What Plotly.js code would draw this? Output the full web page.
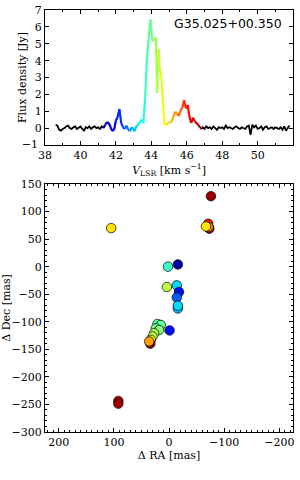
<!DOCTYPE html>
<html><head><meta charset="utf-8">
<script src="https://cdn.plot.ly/plotly-3.0.1.min.js"></script>
<style>html,body{margin:0;padding:0;background:#fff}#c{width:300px;height:480px}</style>
</head><body><div id="c"></div>
<script>
// Spectrum
const vel = [38.6,38.7,38.8,38.9,39.0,39.1,39.2,39.3,39.4,39.5,39.6,39.7,39.8,39.9,40.0,40.1,40.2,40.3,40.4,40.5,40.6,40.7,40.8,40.9,41.0,41.1,41.2,
41.3,41.4,41.5,41.6,41.7,41.8,41.9,42.0,42.1,42.2,42.3,42.4,42.5,42.6,42.7,42.8,42.9,43.0,43.05,43.15,43.25,43.35,43.45,43.55,43.65,43.75,43.85,43.95,44.05,44.15,44.25,44.33,44.4,44.48,44.55,44.65,44.75,44.85,44.95,45.05,45.15,45.25,45.35,45.45,45.55,45.65,45.75,45.85,45.95,46.05,46.15,46.25,46.35,46.45,46.55,46.65,46.75,46.85,
46.9,47.0,47.1,47.2,47.3,47.4,47.5,47.6,47.7,47.8,47.9,48.0,48.1,48.2,48.3,48.4,48.5,48.6,48.7,48.8,48.9,49.0,49.1,49.2,49.3,49.4,49.5,49.6,49.7,49.8,49.9,50.0,50.1,50.2,50.3,50.4,50.5,50.6,50.7,50.8,50.9,51.0,51.1,51.2,51.3,51.4,51.5,51.6,51.7,51.8];
const flux = [0.2,0.15,-0.1,-0.15,-0.05,0.0,0.1,0.15,0.0,-0.05,0.05,0.1,-0.05,0.05,0.1,-0.05,-0.15,0.05,0.0,0.1,-0.05,0.05,0.1,0.0,0.05,-0.05,0.1,
0.0,0.2,0.35,0.3,0.05,-0.17,-0.1,0.45,0.65,1.13,0.3,0.05,-0.05,0.15,-0.1,-0.17,0.05,-0.05,-0.2,0.1,0.2,0.35,0.5,0.28,1.8,4.1,5.3,6.45,5.2,5.2,5.4,2.1,4.7,3.5,3.2,1.6,0.2,0.18,0.3,0.35,0.38,0.7,0.97,0.83,0.72,1.05,1.2,1.67,1.17,1.37,0.7,0.3,0.62,0.4,0.3,0.18,0.05,-0.05,
0.05,-0.05,0.1,0.0,0.05,-0.05,0.1,0.0,-0.1,0.05,0.0,0.05,-0.05,0.15,0.0,0.05,0.0,-0.05,0.05,0.1,0.0,-0.05,0.05,0.0,-0.05,0.1,0.15,-0.4,0.2,0.05,0.15,-0.05,0.0,0.1,-0.1,0.05,0.1,-0.05,0.0,0.05,-0.05,0.05,0.0,-0.05,0.05,-0.1,0.1,-0.15,0.0,0.15];
const vMin = 41.3, vMax = 46.85;
const velTicks = [38,40,42,44,46,48,50,52];
const fluxTicks = [-1,0,1,2,3,4,5,6,7];

// Maser spots
const dRA  = [-73,-71,-72,-67,105,2,-16,4,-14,-18,-14,-16,-16,21,15,24,18,27,30,33,34,36,-1,92,92];
const dDec = [69,78,72,73,70,0,4,-37,-34,-46,-56,-76,-71,-104,-106,-112,-115,-121,-127,-133,-140,-136,-116,-244,-249];
const spotV= [46.8,46.0,45.5,44.9,44.9,43.7,41.5,44.4,43.2,42.0,42.5,43.0,43.2,43.9,43.9,44.0,44.1,44.3,44.4,44.6,46.8,45.3,42.0,46.6,46.7];
const topRA = [-76], topDec = [128], topV = [46.7];

function jet(t){
  t=Math.max(0,Math.min(1,t));
  const c=x=>Math.round(255*Math.max(0,Math.min(1,x)));
  return 'rgb('+c(1.5-Math.abs(4*t-3))+','+c(1.5-Math.abs(4*t-2))+','+c(1.5-Math.abs(4*t-1))+')';
}
const jetScale=[];for(let i=0;i<=20;i++)jetScale.push([i/20,jet(i/20)]);

const tf={family:'DejaVu Serif',size:11,color:'black'};
const lf={family:'DejaVu Serif',size:11,color:'black'};

const traces=[];
for(let i=0;i<vel.length-1;i++){
  const m=(vel[i]+vel[i+1])/2;
  if(m>=vMin&&m<=vMax){
    traces.push({x:[vel[i],vel[i+1]],y:[flux[i],flux[i+1]],mode:'lines',line:{color:jet((m-vMin)/(vMax-vMin)),width:2.2},xaxis:'x',yaxis:'y',hoverinfo:'skip'});
  }
}
const bx=[],by=[];
for(let i=0;i<vel.length;i++){
  if(vel[i]<=vMin||vel[i]>=vMax){bx.push(vel[i]);by.push(flux[i]);}
  else if(bx.length&&bx[bx.length-1]!==null){bx.push(null);by.push(null);}
}
traces.unshift({x:bx,y:by,mode:'lines',line:{color:'black',width:1.8},xaxis:'x',yaxis:'y',connectgaps:false,hoverinfo:'skip'});

// end tick labels drawn as text marks (outside the plot via cliponaxis:false)
const labelRowOffset = 0.6; // label row sits below the axis line, in y-axis units
traces.push({x:[velTicks[0]],y:[fluxTicks[0]],mode:'text',text:['−'+Math.abs(fluxTicks[0])+'  '],textposition:'middle left',textfont:tf,cliponaxis:false,xaxis:'x',yaxis:'y',hoverinfo:'skip'});
traces.push({x:[velTicks[velTicks.length-1]],y:[fluxTicks[0]-labelRowOffset],mode:'text',text:[String(velTicks[velTicks.length-1])],textposition:'middle center',textfont:tf,cliponaxis:false,xaxis:'x',yaxis:'y',hoverinfo:'skip'});

const mk=(x,y,v)=>({x:x,y:y,mode:'markers',xaxis:'x2',yaxis:'y2',hoverinfo:'skip',
  marker:{size:9.5,color:v,colorscale:jetScale,cmin:vMin,cmax:vMax,line:{color:'black',width:0.7}}});
traces.push(mk(dRA,dDec,spotV));
traces.push(mk(topRA,topDec,topV));

const ax={showline:true,linecolor:'black',linewidth:1,mirror:'ticks',ticks:'inside',ticklen:4,tickcolor:'black',showgrid:false,zeroline:false,tickfont:tf,automargin:false};
const innerV = velTicks.slice(0,-1), innerF = fluxTicks.slice(1);
const xd=[0.15,0.977], yd=[0.698,0.979];
const layout={
  width:300,height:480,margin:{l:0,r:0,t:0,b:0},showlegend:false,paper_bgcolor:'white',plot_bgcolor:'white',
  xaxis:Object.assign({},ax,{domain:xd,range:[38,52],tickvals:innerV,anchor:'y',
    minor:{dtick:1,ticks:'inside',ticklen:2,tickcolor:'black'},
    title:{text:'<i>V</i><sub>LSR</sub> [km s<sup>−1</sup>]',font:lf,standoff:1}}),
  yaxis:Object.assign({},ax,{domain:yd,range:[-1,7],tickvals:innerF,anchor:'x',
    title:{text:'Flux density [Jy]',font:lf,standoff:5}}),
  xaxis2:Object.assign({},ax,{domain:xd,range:[225,-225],dtick:100,anchor:'y2',
    minor:{dtick:10,ticks:'inside',ticklen:2,tickcolor:'black'},
    title:{text:'Δ RA [mas]',font:lf,standoff:1}}),
  yaxis2:Object.assign({},ax,{domain:[0.1,0.617],range:[-300.5,150.5],dtick:50,anchor:'x2',
    minor:{dtick:10,ticks:'inside',ticklen:2,tickcolor:'black'},
    title:{text:'Δ Dec [mas]',font:lf,standoff:1}}),
  annotations:[
    {text:'G35.025+00.350',xref:'paper',yref:'paper',x:0.945,y:0.952,xanchor:'right',yanchor:'middle',showarrow:false,font:{family:'DejaVu Sans',size:12.5,color:'black'}}
  ]
};
Plotly.newPlot('c',traces,layout,{staticPlot:true,displayModeBar:false});
</script></body></html>
